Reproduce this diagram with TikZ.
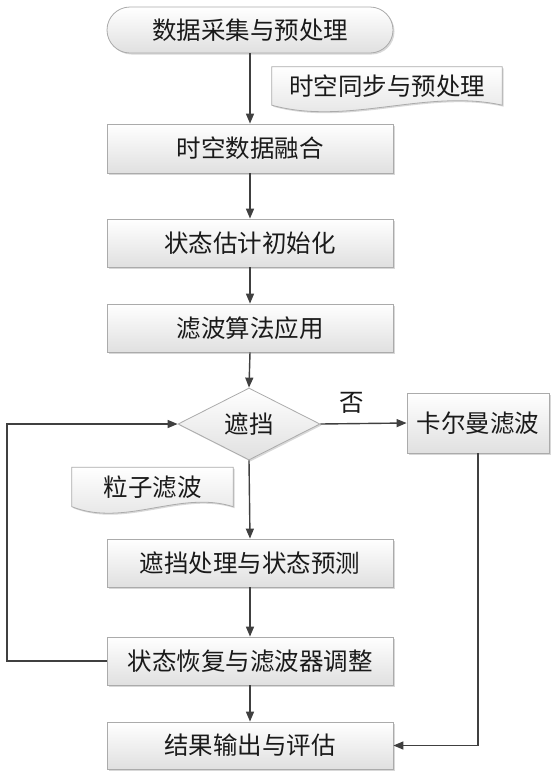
\documentclass[tikz,border=0pt]{standalone}
\usepackage{fontspec}
\newfontfamily\cjk{Noto Sans CJK SC}
\usetikzlibrary{shapes.geometric,shapes.misc,arrows.meta,shadows,calc}
\pgfdeclarelayer{bg}
\pgfsetlayers{bg,main}
\definecolor{linec}{HTML}{404040}
\definecolor{boxline}{HTML}{ABABAB}
\definecolor{boxbot}{HTML}{E0E0E0}
\definecolor{txt}{HTML}{1A1A1A}
\tikzset{
  cjkfont/.style={font=\cjk\fontsize{24.5}{26}\selectfont, text=txt},
  base/.style={cjkfont, draw=boxline, line width=0.8pt, top color=white, bottom color=boxbot,
    inner sep=0pt, drop shadow={shadow xshift=1.5pt, shadow yshift=-1.5pt, fill=black!30, opacity=0.5}},
  procbox/.style={base, rectangle, minimum width=286pt, minimum height=48pt},
  termbox/.style={base, rounded rectangle, minimum width=286pt, minimum height=46pt},
  decbox/.style={base, diamond, aspect=2, minimum width=142pt, minimum height=72pt},
  kalbox/.style={base, rectangle, minimum width=142pt, minimum height=60pt},
  doctext/.style={cjkfont, inner sep=0pt},
  docshape/.style={draw=boxline, line width=0.8pt, top color=white, bottom color=boxbot,
    drop shadow={shadow xshift=1.5pt, shadow yshift=-1.5pt, fill=black!30, opacity=0.5}},
  conn/.style={draw=linec, line width=1.4pt, -{Triangle[length=10pt,width=8pt]}},
}
\begin{document}
\begin{tikzpicture}[x=1pt,y=-1pt]
\begin{pgfonlayer}{bg}
\fill[white] (0,0) rectangle (556,777);
\end{pgfonlayer}
\useasboundingbox (0,0) rectangle (556,777);

\node[termbox] (start) at (250,30) {数据采集与预处理};
\node[procbox, minimum height=49pt] (b1) at (250,148.5) {时空数据融合};
\node[procbox] (b2) at (250,243) {状态估计初始化};
\node[procbox] (b3) at (250,328) {滤波算法应用};
\node[decbox] (dia) at (249,424) {遮挡};
\node[kalbox] (kal) at (478,423) {卡尔曼滤波};
\node[procbox] (b4) at (250,563) {遮挡处理与状态预测};
\node[procbox] (b5) at (250,661) {状态恢复与滤波器调整};
\node[procbox, minimum height=47pt] (b6) at (250,745.5) {结果输出与评估};

% document annotations
\node[doctext, minimum width=230pt, minimum height=38pt] (d1) at (387,86) {时空同步与预处理};
\node[doctext, minimum width=161pt, minimum height=39pt] (d2) at (152.5,487) {粒子滤波};
\begin{pgfonlayer}{bg}
\path[docshape] (d1.north west) -- (d1.north east) -- (d1.south east)
  .. controls ($(d1.south east)+(-76,-17)$) and ($(d1.south west)+(76,21)$) .. (d1.south west) -- cycle;
\path[docshape] (d2.north west) -- (d2.north east) -- (d2.south east)
  .. controls ($(d2.south east)+(-53,-17)$) and ($(d2.south west)+(53,21)$) .. (d2.south west) -- cycle;
\end{pgfonlayer}

% connectors
\draw[conn] (start.south) -- (b1.north);
\draw[conn] (b1.south) -- (b2.north);
\draw[conn] (b2.south) -- (b3.north);
\draw[conn] (b3.south) -- (dia.north);
\draw[conn] (dia.south) -- (b4.north);
\draw[conn] (b4.south) -- (b5.north);
\draw[conn] (b5.south) -- (b6.north);
\draw[conn] (dia.east) -- node[cjkfont, pos=0.36, above=9pt, inner sep=0pt] {否} (kal.west);
\draw[conn] (kal.south) |- (b6.east);
\coordinate (lp) at (7,661);
\draw[conn] (b5.west) -- (lp) |- (dia.west);
\end{tikzpicture}
\end{document}
